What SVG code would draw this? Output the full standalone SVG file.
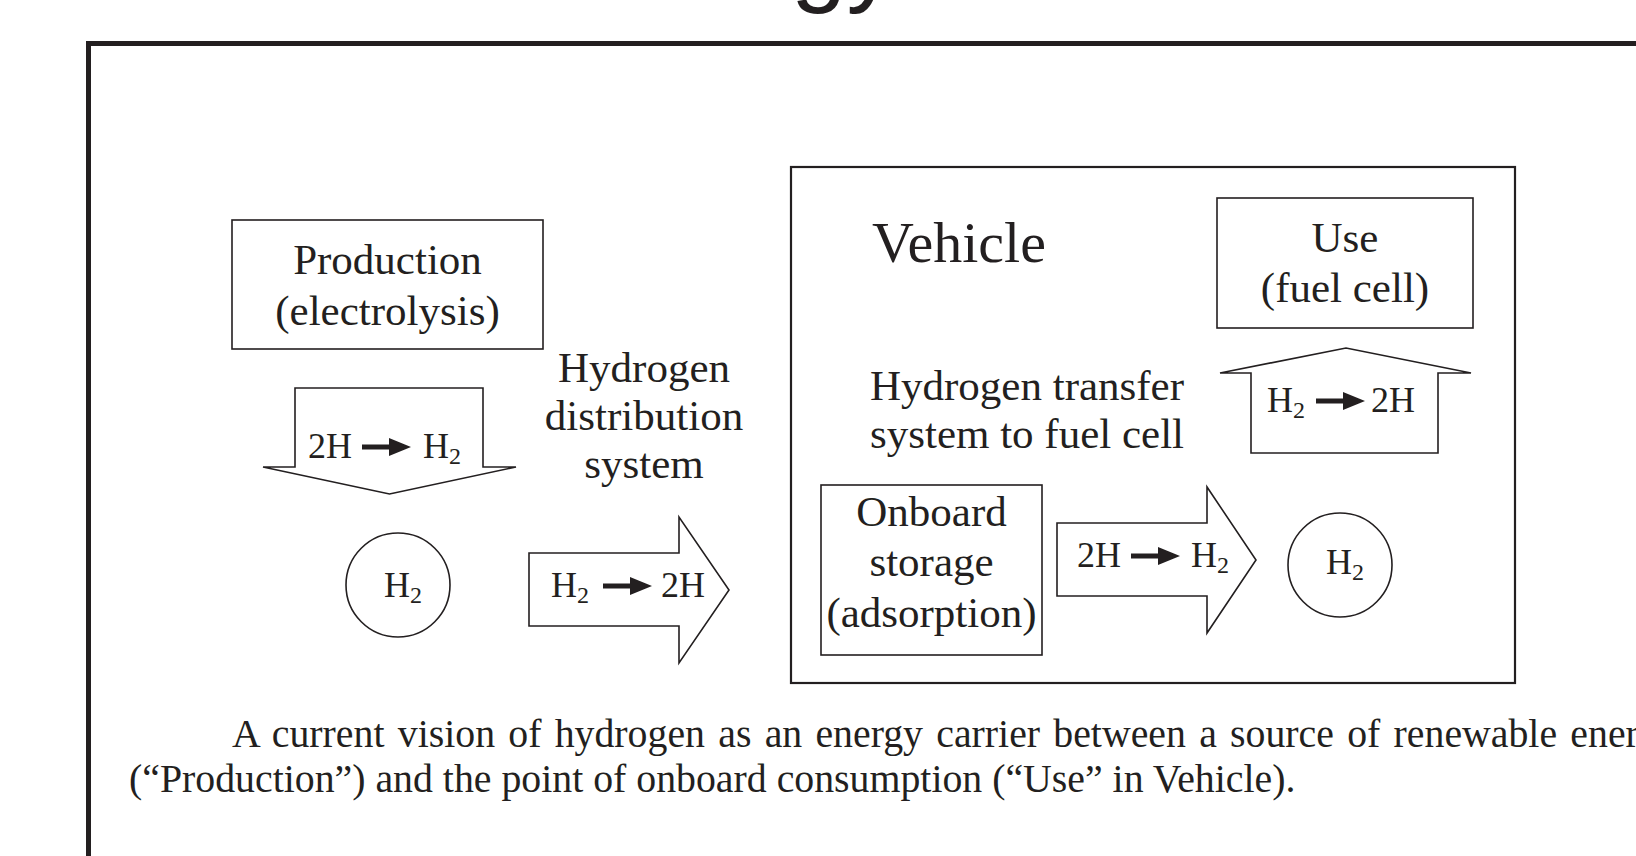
<svg xmlns="http://www.w3.org/2000/svg" xmlns:xlink="http://www.w3.org/1999/xlink" width="1636" height="856" viewBox="0 0 1636 856">
<style>
.box{fill:#fff;stroke:#231f20;stroke-width:1.6}
.shape{fill:#fff;stroke:#231f20;stroke-width:1.6;stroke-linejoin:miter}
.lbl{font-family:"Liberation Serif","Times New Roman",serif;font-size:43px;fill:#231f20}
.big{font-size:58px}
.rx{font-family:"Liberation Serif","Times New Roman",serif;font-size:36px;fill:#231f20}
.sub{font-size:24px}
.cap{font-family:"Liberation Serif","Times New Roman",serif;font-size:39.8px;fill:#231f20}
</style>
<defs>
<path id="rarrow" d="M0,-2.5 H27 V-9 L49,0 L27,9 V2.5 H0 Z" fill="#231f20"/>
</defs>
<rect width="1636" height="856" fill="#fff"/>
<text x="791" y="-7" font-family="Liberation Sans, Arial, sans-serif" font-size="100" fill="#231f20">gy</text>
<path d="M88.5,900 V43.5 H1700" fill="none" stroke="#231f20" stroke-width="5"/>

<g id="vehicle">
<rect x="791" y="167" width="724" height="516" fill="none" stroke="#231f20" stroke-width="2.2"/>
<text class="lbl big" x="872" y="262">Vehicle</text>
</g>

<g id="production">
<rect class="box" x="232" y="220" width="311" height="129"/>
<text class="lbl" x="387.5" y="274" text-anchor="middle">Production</text>
<text class="lbl" x="387.5" y="325" text-anchor="middle">(electrolysis)</text>
</g>

<g id="distribution-label">
<text class="lbl" x="644" y="382" text-anchor="middle">Hydrogen</text>
<text class="lbl" x="644" y="430" text-anchor="middle">distribution</text>
<text class="lbl" x="644" y="478" text-anchor="middle">system</text>
</g>

<g id="use">
<rect class="box" x="1217" y="198" width="256" height="130"/>
<text class="lbl" x="1345" y="252" text-anchor="middle">Use</text>
<text class="lbl" x="1345" y="302" text-anchor="middle">(fuel cell)</text>
</g>

<g id="transfer-label">
<text class="lbl" x="1027" y="400" text-anchor="middle">Hydrogen transfer</text>
<text class="lbl" x="1027" y="448" text-anchor="middle">system to fuel cell</text>
</g>

<g id="onboard">
<rect class="box" x="821" y="485" width="221" height="170"/>
<text class="lbl" x="931.5" y="526" text-anchor="middle">Onboard</text>
<text class="lbl" x="931.5" y="576" text-anchor="middle">storage</text>
<text class="lbl" x="931.5" y="627" text-anchor="middle">(adsorption)</text>
</g>

<g id="h2-left">
<circle class="shape" cx="398" cy="585" r="52"/>
<text class="rx" x="384" y="597">H<tspan class="sub" dy="6">2</tspan></text>
</g>

<g id="h2-right">
<circle class="shape" cx="1340" cy="565" r="52"/>
<text class="rx" x="1326" y="574">H<tspan class="sub" dy="6">2</tspan></text>
</g>

<g id="connectors">
<g id="arrow-down">
<path class="shape" d="M295,388 H483 V467 H516 L389.5,494 L263,467 H295 Z"/>
<text class="rx" x="308" y="458">2H</text>
<use xlink:href="#rarrow" x="362" y="447"/>
<text class="rx" x="423" y="458">H<tspan class="sub" dy="6">2</tspan></text>
</g>
<g id="arrow-distribution">
<path class="shape" d="M529,553 H679 V517 L729,590 L679,663 V626 H529 Z"/>
<text class="rx" x="551" y="597">H<tspan class="sub" dy="6">2</tspan></text>
<use xlink:href="#rarrow" x="603" y="586"/>
<text class="rx" x="661" y="597">2H</text>
</g>
<g id="arrow-release">
<path class="shape" d="M1057,523 H1207 V487 L1256,560 L1207,633 V596 H1057 Z"/>
<text class="rx" x="1077" y="567">2H</text>
<use xlink:href="#rarrow" x="1131" y="556"/>
<text class="rx" x="1191" y="567">H<tspan class="sub" dy="6">2</tspan></text>
</g>
<g id="arrow-up">
<path class="shape" d="M1251,453 V373 H1220 L1346,348 L1471,373 H1438 V453 Z"/>
<text class="rx" x="1267" y="412">H<tspan class="sub" dy="6">2</tspan></text>
<use xlink:href="#rarrow" x="1316" y="401"/>
<text class="rx" x="1371" y="412">2H</text>
</g>
</g>

<g id="caption">
<text class="cap" x="232" y="747" word-spacing="3.3">A current vision of hydrogen as an energy carrier between a source of renewable energy</text>
<text class="cap" x="129" y="792">(“Production”) and the point of onboard consumption (“Use” in Vehicle).</text>
</g>
</svg>
